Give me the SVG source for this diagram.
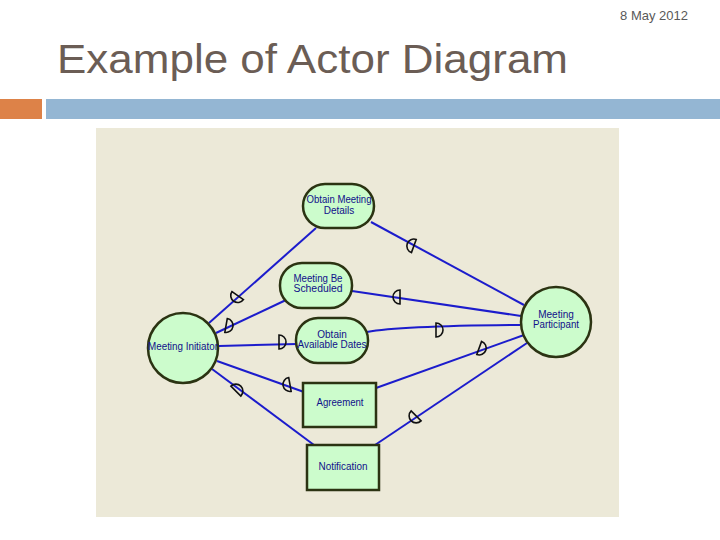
<svg xmlns="http://www.w3.org/2000/svg" width="720" height="540" viewBox="0 0 720 540">
<defs>
<style>
.node{fill:#ccfccc;stroke:#2b3312;stroke-width:2.5}
.lbl{font-family:"Liberation Sans",Arial,sans-serif;font-size:10px;fill:#10108a;text-anchor:middle}
.cn{stroke:#1c1ccc;stroke-width:2;fill:none}
.dep{fill:none;stroke:#111;stroke-width:1.6}
</style>
<path id="d" d="M-3,-7 L-3,7 A7,7 0 0,0 -3,-7 Z"/>
</defs>
<rect width="720" height="540" fill="#ffffff"/>
<text x="688" y="20" font-family="Liberation Sans,Arial,sans-serif" font-size="13" fill="#595959" text-anchor="end">8 May 2012</text>
<text x="57" y="73" font-family="Liberation Sans,Arial,sans-serif" font-size="40" fill="#6b5d55" textLength="511" lengthAdjust="spacingAndGlyphs">Example of Actor Diagram</text>
<rect x="0" y="99" width="42" height="20" fill="#dd8248"/>
<rect x="46" y="99" width="674" height="20" fill="#94b6d3"/>
<rect x="96" y="128" width="523" height="389" fill="#ece9d8"/>
<g id="connectors">
<line class="cn" x1="209" y1="323" x2="316" y2="228"/>
<line class="cn" x1="216" y1="333" x2="286" y2="300"/>
<line class="cn" x1="219" y1="346" x2="297" y2="344"/>
<line class="cn" x1="217" y1="361" x2="304" y2="392"/>
<line class="cn" x1="212" y1="369" x2="314" y2="445"/>
<line class="cn" x1="371" y1="222" x2="524" y2="305"/>
<line class="cn" x1="352" y1="291" x2="521" y2="316"/>
<path class="cn" d="M367,332 Q400,326 520,325"/>
<line class="cn" x1="376" y1="388" x2="524" y2="335"/>
<line class="cn" x1="375" y1="445" x2="527" y2="343"/>
<g class="dep">
<use href="#d" transform="translate(236,298) rotate(125)"/>
<use href="#d" transform="translate(229,326) rotate(10)"/>
<use href="#d" transform="translate(282,342) rotate(0)"/>
<use href="#d" transform="translate(287,385) rotate(170)"/>
<use href="#d" transform="translate(238,389) rotate(-45)"/>
<use href="#d" transform="translate(411,245) rotate(200)"/>
<use href="#d" transform="translate(397,297) rotate(180)"/>
<use href="#d" transform="translate(439,330) rotate(0)"/>
<use href="#d" transform="translate(482,349) rotate(20)"/>
<use href="#d" transform="translate(414,418) rotate(135)"/>
</g>
</g>
<g id="meeting-initiator">
<circle class="node" cx="183" cy="348" r="35"/>
<text class="lbl" x="183" y="350" textLength="70" lengthAdjust="spacingAndGlyphs">Meeting Initiator</text>
</g>
<g id="meeting-participant">
<circle class="node" cx="556" cy="322" r="35"/>
<text class="lbl" x="556" y="318">Meeting</text>
<text class="lbl" x="556" y="328" textLength="46" lengthAdjust="spacingAndGlyphs">Participant</text>
</g>
<g id="obtain-meeting-details">
<rect class="node" x="303" y="184" width="71" height="44" rx="22"/>
<text class="lbl" x="339" y="203" textLength="65" lengthAdjust="spacingAndGlyphs">Obtain Meeting</text>
<text class="lbl" x="339" y="214">Details</text>
</g>
<g id="meeting-be-scheduled">
<rect class="node" x="280" y="263" width="72" height="45" rx="22"/>
<text class="lbl" x="318" y="282" textLength="49" lengthAdjust="spacingAndGlyphs">Meeting Be</text>
<text class="lbl" x="318" y="292" textLength="49" lengthAdjust="spacingAndGlyphs">Scheduled</text>
</g>
<g id="obtain-available-dates">
<rect class="node" x="296" y="318" width="72" height="45" rx="22"/>
<text class="lbl" x="332" y="338">Obtain</text>
<text class="lbl" x="332" y="348" textLength="69" lengthAdjust="spacingAndGlyphs">Available Dates</text>
</g>
<g id="agreement">
<rect class="node" x="303" y="383" width="73" height="44"/>
<text class="lbl" x="340" y="406" textLength="47" lengthAdjust="spacingAndGlyphs">Agreement</text>
</g>
<g id="notification">
<rect class="node" x="307" y="445" width="72" height="45"/>
<text class="lbl" x="343" y="470" textLength="49" lengthAdjust="spacingAndGlyphs">Notification</text>
</g>
</svg>
